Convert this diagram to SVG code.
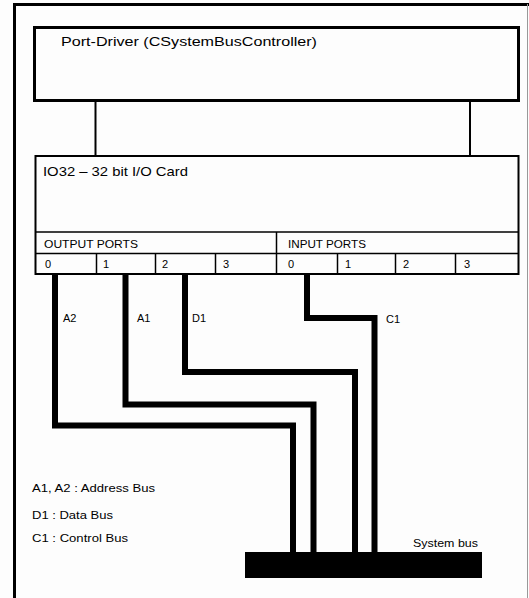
<svg xmlns="http://www.w3.org/2000/svg" width="529" height="598" viewBox="0 0 529 598">
<style>
.t{font-family:"Liberation Sans",Arial,sans-serif;fill:#000}
.box{fill:none;stroke:#000}
.wire{fill:none;stroke:#000;stroke-width:6;stroke-linejoin:miter;stroke-linecap:butt}
</style>
<rect width="529" height="598" fill="#fdfdfd"/>
<g id="frame">
<path d="M14.5 600 V4.5 H529" fill="none" stroke="#000" stroke-width="3"/>
<line x1="527.5" y1="4" x2="527.5" y2="598" stroke="#999" stroke-width="1"/>
</g>
<g id="port-driver">
<rect class="box" x="34.5" y="27.5" width="484" height="73" stroke-width="3"/>
<text class="t" x="61" y="45.5" font-size="13.5" textLength="256" lengthAdjust="spacingAndGlyphs">Port-Driver (CSystemBusController)</text>
</g>
<g id="connectors">
<line x1="95.5" y1="101" x2="95.5" y2="156" stroke="#000" stroke-width="2"/>
<line x1="470" y1="101" x2="470" y2="156" stroke="#000" stroke-width="2"/>
<polyline class="wire" points="55,274 55,425.5 293,425.5 293,552"/>
<polyline class="wire" points="125.5,274 125.5,404.5 313.5,404.5 313.5,552"/>
<polyline class="wire" points="185,274 185,372 355,372 355,552"/>
<polyline class="wire" points="307,274 307,318 374.5,318 374.5,552"/>
</g>
<g id="io-card">
<rect class="box" x="35.5" y="156" width="483" height="118" stroke-width="2"/>
<line x1="35.5" y1="232" x2="518.5" y2="232" stroke="#000" stroke-width="1.5"/>
<line x1="35.5" y1="253.5" x2="518.5" y2="253.5" stroke="#000" stroke-width="1.5"/>
<line x1="276.5" y1="232" x2="276.5" y2="274" stroke="#000" stroke-width="1.5"/>
<line x1="96.5" y1="253.5" x2="96.5" y2="274" stroke="#000" stroke-width="1.5"/>
<line x1="155.5" y1="253.5" x2="155.5" y2="274" stroke="#000" stroke-width="1.5"/>
<line x1="215.5" y1="253.5" x2="215.5" y2="274" stroke="#000" stroke-width="1.5"/>
<line x1="337.5" y1="253.5" x2="337.5" y2="274" stroke="#000" stroke-width="1.5"/>
<line x1="395.5" y1="253.5" x2="395.5" y2="274" stroke="#000" stroke-width="1.5"/>
<line x1="455.5" y1="253.5" x2="455.5" y2="274" stroke="#000" stroke-width="1.5"/>
<text class="t" x="43" y="175.5" font-size="13.5" textLength="145" lengthAdjust="spacingAndGlyphs">IO32 – 32 bit I/O Card</text>
<text class="t" x="44" y="247.5" font-size="11" textLength="94" lengthAdjust="spacingAndGlyphs">OUTPUT PORTS</text>
<text class="t" x="288" y="247.5" font-size="11" textLength="78" lengthAdjust="spacingAndGlyphs">INPUT PORTS</text>
<g font-size="11" class="t">
<text class="t" x="45" y="267.5">0</text>
<text class="t" x="103" y="267.5">1</text>
<text class="t" x="162" y="267.5">2</text>
<text class="t" x="223" y="267.5">3</text>
<text class="t" x="288" y="267.5">0</text>
<text class="t" x="345" y="267.5">1</text>
<text class="t" x="403" y="267.5">2</text>
<text class="t" x="464" y="267.5">3</text>
</g>
</g>
<g id="wire-labels" class="t" font-size="11">
<text class="t" x="63" y="322">A2</text>
<text class="t" x="137" y="322">A1</text>
<text class="t" x="192" y="322">D1</text>
<text class="t" x="386" y="323">C1</text>
</g>
<g id="system-bus">
<rect x="245" y="552" width="237" height="26" fill="#000"/>
<text class="t" x="413" y="547" font-size="11" textLength="65" lengthAdjust="spacingAndGlyphs">System bus</text>
</g>
<g id="legend" font-size="11">
<text class="t" x="32" y="492" textLength="123" lengthAdjust="spacingAndGlyphs">A1, A2 : Address Bus</text>
<text class="t" x="32" y="519" textLength="81" lengthAdjust="spacingAndGlyphs">D1 : Data Bus</text>
<text class="t" x="32" y="542" textLength="96" lengthAdjust="spacingAndGlyphs">C1 : Control Bus</text>
</g>
</svg>
